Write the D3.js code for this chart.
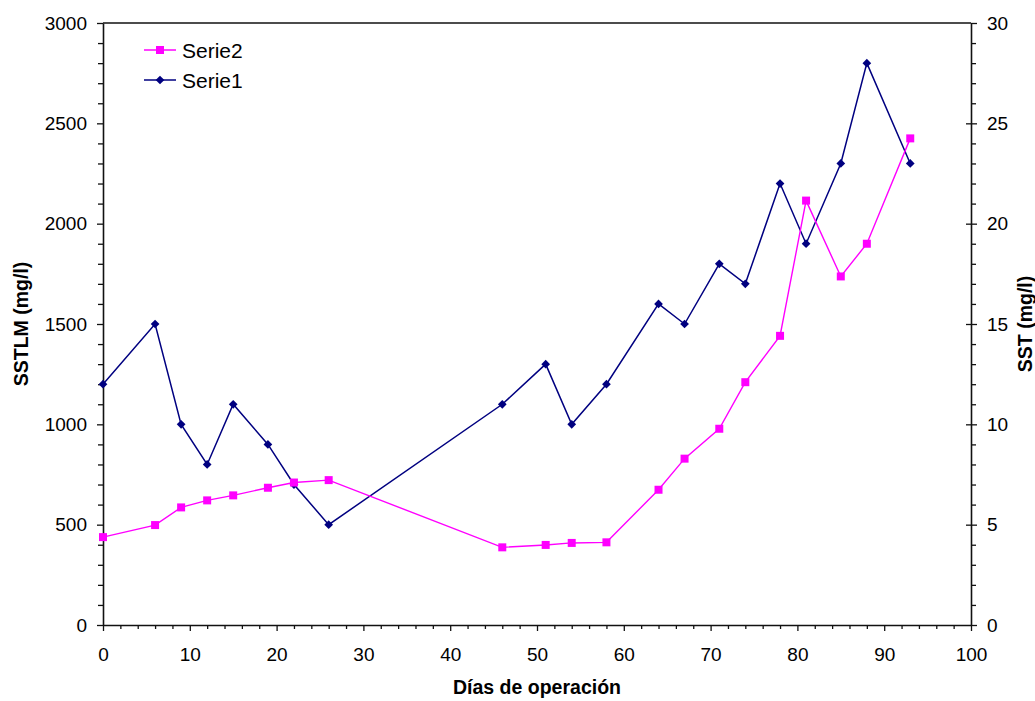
<!DOCTYPE html>
<html>
<head>
<meta charset="utf-8">
<script src="https://cdn.jsdelivr.net/npm/d3@7"></script>
<style>
  html, body { margin: 0; padding: 0; background: #fff; }
  svg { display: block; font-family: "Liberation Sans", Arial, sans-serif; }
</style>
</head>
<body>
<svg id="chart" width="1035" height="701"></svg>
<script>
// ---- data ----
const days = [0, 6, 9, 12, 15, 19, 22, 26, 46, 51, 54, 58, 64, 67, 71, 74, 78, 81, 85, 88, 93];
const serie1 = [1200, 1500, 1000, 800, 1100, 900, 700, 500, 1100, 1300, 1000, 1200, 1600, 1500, 1800, 1700, 2200, 1900, 2300, 2800, 2300];
const serie2 = [4.38, 4.98, 5.86, 6.21, 6.46, 6.84, 7.10, 7.22, 3.87, 3.99, 4.09, 4.12, 6.74, 8.29, 9.78, 12.10, 14.41, 21.15, 17.37, 19.00, 24.25];
const xTicks = [0, 10, 20, 30, 40, 50, 60, 70, 80, 90, 100];
const leftTicks = [0, 500, 1000, 1500, 2000, 2500, 3000];
const rightTicks = [0, 5, 10, 15, 20, 25, 30];
const seriesNames = ["Serie2", "Serie1"];
const xTitle = "Días de operación";
const leftTitle = "SSTLM (mg/l)";
const rightTitle = "SST (mg/l)";

// ---- layout ----
const L = 103, R = 971, T = 23, B = 625;
const svg = d3.select("#chart");
const x = d3.scaleLinear().domain([0, 100]).range([L, R]);
const yL = d3.scaleLinear().domain([0, 3000]).range([B, T]);
const yR = d3.scaleLinear().domain([0, 30]).range([B, T]);

const NAVY = "#000080", MAG = "#FF00FF", AX = "#111";

function styleAxis(g, fs) {
  g.select(".domain").attr("stroke", AX).attr("stroke-width", 1.6);
  g.selectAll(".tick line").attr("stroke", AX).attr("stroke-width", 1.3);
  g.selectAll(".tick text").attr("fill", "#000").style("font-size", fs + "px");
}

// minor ticks
const minorX = d3.range(0, 101, 2).filter(v => v % 10 !== 0);
const minorL = d3.range(0, 3001, 100).filter(v => v % 500 !== 0);
const minorR = d3.range(0, 31, 1).filter(v => v % 5 !== 0);

svg.append("g").attr("transform", `translate(0,${B})`)
  .call(d3.axisBottom(x).tickValues(minorX).tickSize(4).tickFormat(""))
  .call(g => { g.select(".domain").remove(); g.selectAll(".tick line").attr("stroke", AX).attr("stroke-width", 1.3); });
svg.append("g").attr("transform", `translate(${L},0)`)
  .call(d3.axisLeft(yL).tickValues(minorL).tickSize(5).tickFormat(""))
  .call(g => { g.select(".domain").remove(); g.selectAll(".tick line").attr("stroke", AX).attr("stroke-width", 1.3); });
svg.append("g").attr("transform", `translate(${R},0)`)
  .call(d3.axisRight(yR).tickValues(minorR).tickSize(5).tickFormat(""))
  .call(g => { g.select(".domain").remove(); g.selectAll(".tick line").attr("stroke", AX).attr("stroke-width", 1.3); });

// major axes
const gx = svg.append("g").attr("transform", `translate(0,${B})`)
  .call(d3.axisBottom(x).tickValues(xTicks).tickSize(6).tickSizeOuter(0).tickPadding(17).tickFormat(d3.format("d")));
styleAxis(gx, 19);

const gl = svg.append("g").attr("transform", `translate(${L},0)`)
  .call(d3.axisLeft(yL).tickValues(leftTicks).tickSize(6).tickSizeOuter(0).tickPadding(10).tickFormat(d3.format("d")));
styleAxis(gl, 19);

const gr = svg.append("g").attr("transform", `translate(${R},0)`)
  .call(d3.axisRight(yR).tickValues(rightTicks).tickSize(6).tickSizeOuter(0).tickPadding(10).tickFormat(d3.format("d")));
styleAxis(gr, 19);
gr.selectAll(".tick line").attr("x1", d => (d === 0 || d === 30) ? 0 : -5);

// top frame line
svg.append("line").attr("x1", L).attr("x2", R).attr("y1", T).attr("y2", T)
  .attr("stroke", AX).attr("stroke-width", 1.6);

// ---- series ----
const pts1 = days.map((d, i) => [d, serie1[i]]);
const pts2 = days.map((d, i) => [d, serie2[i]]);

const diamond = d3.symbol().type(d3.symbolSquare).size(38);
const square = d3.symbol().type(d3.symbolSquare).size(64);

svg.append("path").datum(pts1)
  .attr("fill", "none").attr("stroke", NAVY).attr("stroke-width", 1.5)
  .attr("d", d3.line().x(d => x(d[0])).y(d => yL(d[1])));
svg.append("g").selectAll("path").data(pts1).join("path")
  .attr("d", diamond).attr("fill", NAVY)
  .attr("transform", d => `translate(${x(d[0])},${yL(d[1])}) rotate(45)`);

svg.append("path").datum(pts2)
  .attr("fill", "none").attr("stroke", MAG).attr("stroke-width", 1.4)
  .attr("d", d3.line().x(d => x(d[0])).y(d => yR(d[1])));
svg.append("g").selectAll("path").data(pts2).join("path")
  .attr("d", square).attr("fill", MAG)
  .attr("transform", d => `translate(${x(d[0])},${yR(d[1])})`);

// ---- legend ----
const leg = svg.append("g");
const legItems = [
  { name: seriesNames[0], color: MAG, sym: square, rot: 0, y: 50 },
  { name: seriesNames[1], color: NAVY, sym: diamond, rot: 45, y: 80 }
];
legItems.forEach(it => {
  leg.append("line").attr("x1", 144).attr("x2", 176).attr("y1", it.y).attr("y2", it.y)
    .attr("stroke", it.color).attr("stroke-width", 1.5);
  leg.append("path").attr("d", it.sym).attr("fill", it.color)
    .attr("transform", `translate(160,${it.y}) rotate(${it.rot})`);
  leg.append("text").attr("x", 182).attr("y", it.y).attr("dy", "0.36em")
    .style("font-size", "21px").attr("fill", "#000").text(it.name);
});

// ---- titles ----
svg.append("text").attr("x", (L + R) / 2).attr("y", 694).attr("text-anchor", "middle")
  .style("font-size", "19.5px").style("font-weight", "bold").text(xTitle);
svg.append("text").attr("transform", `translate(28,${(T + B) / 2}) rotate(-90)`)
  .attr("text-anchor", "middle").style("font-size", "19.5px").style("font-weight", "bold").text(leftTitle);
svg.append("text").attr("transform", `translate(1032,${(T + B) / 2}) rotate(-90)`)
  .attr("text-anchor", "middle").style("font-size", "19.5px").style("font-weight", "bold").text(rightTitle);
</script>
</body>
</html>
